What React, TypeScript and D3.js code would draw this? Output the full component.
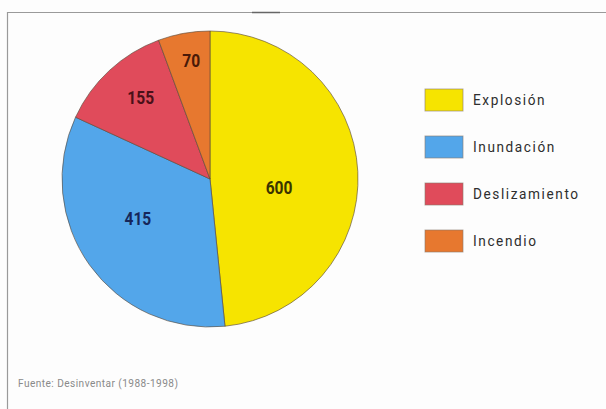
import React from "react";
import * as d3 from "d3";

const categories = ["Explosión", "Inundación", "Deslizamiento", "Incendio"];
const values = [600, 415, 155, 70];
const sliceColors = ["#f6e400", "#53a6ea", "#e04b5b", "#e7782f"];
const labelColors = ["#3a3400", "#16265a", "#4a1018", "#4a1a08"];
const sourceNote = "Fuente: Desinventar (1988-1998)";

const W = 606;
const H = 409;

export default function App() {
  const cx = 210;
  const cy = 179;
  const r = 148;

  const pie = d3.pie<number>().sort(null).value((d) => d);
  const arcs = pie(values);
  const arcGen = d3.arc<d3.PieArcDatum<number>>().innerRadius(0).outerRadius(r);

  const labelPos = (a: d3.PieArcDatum<number>) => {
    const span = a.endAngle - a.startAngle;
    const f = 0.986 - 0.296 * Math.sqrt(span);
    const mid = (a.startAngle + a.endAngle) / 2 + 0.055 * span;
    return [Math.sin(mid) * r * f, -Math.cos(mid) * r * f];
  };

  const legendY = d3
    .scalePoint<string>()
    .domain(categories)
    .range([100, 241]);

  return (
    <svg
      width={W}
      height={H}
      style={{ position: "absolute", left: 0, top: 0, background: "#fdfdfd" }}
    >
      <rect x={0} y={0} width={W} height={H} fill="#fdfdfd" />
      <line x1={7} y1={12.5} x2={W} y2={12.5} stroke="#9a9a9a" strokeWidth={1.2} />
      <line x1={252} y1={12.5} x2={280} y2={12.5} stroke="#666" strokeWidth={1.5} />
      <line x1={7.5} y1={12} x2={7.5} y2={H} stroke="#9a9a9a" strokeWidth={1.2} />
      <g transform={`translate(${cx},${cy})`}>
        {arcs.map((a, i) => (
          <path
            key={categories[i]}
            d={arcGen(a) || ""}
            fill={sliceColors[i]}
            stroke="#5a4a3a"
            strokeOpacity={0.7}
            strokeWidth={0.9}
          />
        ))}
        {arcs.map((a, i) => {
          const [x, y] = labelPos(a);
          return (
            <text
              key={"l" + i}
              transform={`translate(${x},${y}) scale(0.82,1)`}
              textAnchor="middle"
              dominantBaseline="central"
              fontFamily="Roboto, sans-serif"
              fontWeight="bold"
              fontSize={19}
              fill={labelColors[i]}
            >
              {values[i]}
            </text>
          );
        })}
      </g>
      <g>
        {categories.map((c, i) => {
          const y = legendY(c) as number;
          return (
            <g key={c}>
              <rect
                x={425}
                y={y - 11}
                width={38}
                height={22}
                fill={sliceColors[i]}
                stroke="#8a7a6a"
                strokeOpacity={0.6}
                strokeWidth={1}
              />
              <text
                transform={`translate(473,${y}) scale(0.88,1)`}
                dominantBaseline="central"
                fontFamily="Roboto, sans-serif"
                fontSize={15.5}
                letterSpacing={1.8}
                fill="#2e2e2e"
              >
                {c}
              </text>
            </g>
          );
        })}
      </g>
      <text
        transform="translate(18,383) scale(0.88,1)"
        dominantBaseline="central"
        fontFamily="Roboto, sans-serif"
        fontSize={11.5}
        letterSpacing={0.5}
        fill="#8a8a8a"
      >
        {sourceNote}
      </text>
    </svg>
  );
}
